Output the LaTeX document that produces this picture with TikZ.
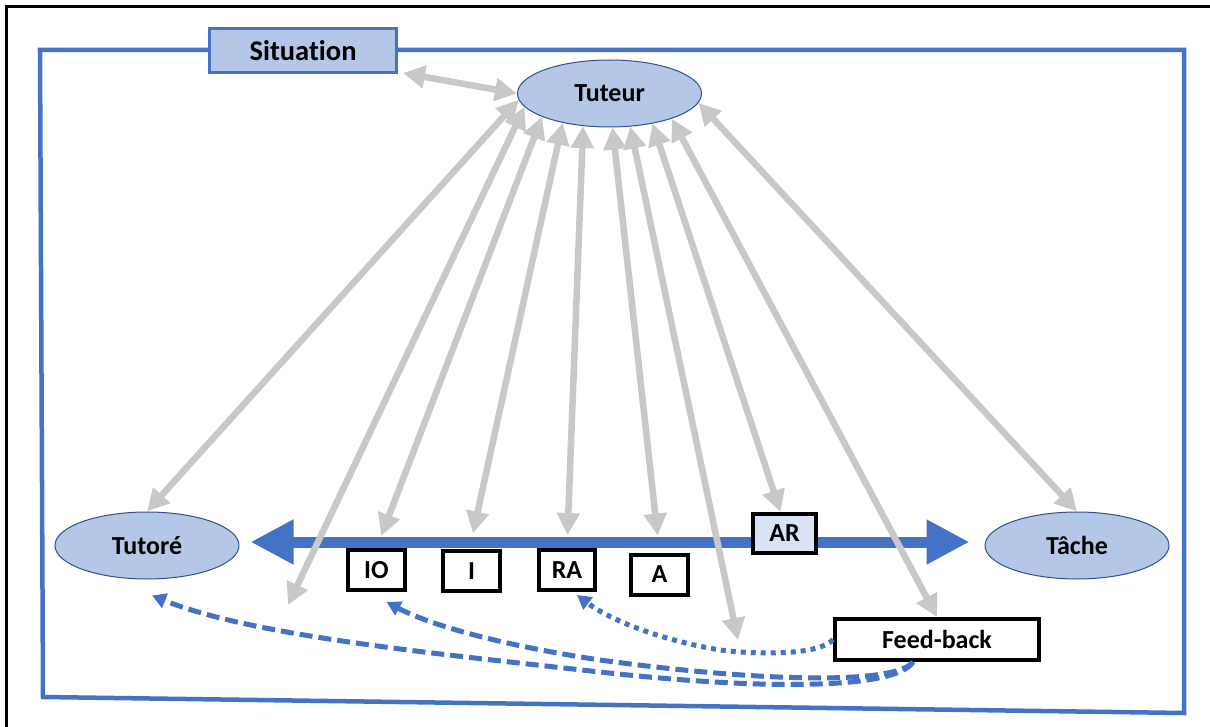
\documentclass[tikz,border=0pt]{standalone}
\usepackage{fontspec}
\setmainfont{Carlito}[Ligatures=CommonOff]
\usetikzlibrary{arrows.meta,shapes.geometric}
\definecolor{bblue}{HTML}{4472C4}
\definecolor{lblue}{HTML}{B4C7E7}
\definecolor{vlblue}{HTML}{DAE3F3}
\definecolor{dblue}{HTML}{2F528F}
\definecolor{agrey}{HTML}{C8C8C8}
\begin{document}
\begin{tikzpicture}[x=1pt,y=-1pt,
  txt/.style={font=\bfseries\fontsize{26}{30}\selectfont, text=black},
  ell/.style={txt, ellipse, draw=dblue, line width=1pt, fill=lblue, minimum width=184pt, minimum height=67pt, inner sep=0pt},
  sitbox/.style={txt, font=\bfseries\fontsize{28.5}{32}\selectfont, draw=bblue, line width=3pt, fill=lblue, minimum width=187pt, minimum height=44pt, inner sep=0pt},
  lab/.style={txt, draw=black, line width=4pt, fill=white, minimum width=57pt, minimum height=40pt, inner sep=0pt},
  garrow/.style={draw=agrey, line width=6.5pt, {Triangle[width=22pt,length=22pt]}-{Triangle[width=22pt,length=22pt]}},
  bigarrow/.style={draw=bblue, line width=11pt, {Triangle[width=42pt,length=43pt]}-{Triangle[width=42pt,length=43pt]}},
  dasharrow/.style={draw=bblue, line width=5pt, dash pattern=on 13pt off 6pt, -{Triangle[width=15pt,length=14pt]}},
  dotarrow/.style={draw=bblue, line width=5pt, dash pattern=on 5pt off 5pt, -{Triangle[width=15pt,length=14pt]}}
]
\useasboundingbox (0,0) rectangle (1210,727);
\fill[white] (0,0) rectangle (1210,727);
% outer black frame
\draw[line width=3pt, line join=miter] (6,727) -- (6,7) -- (1210,7);
% blue situation frame
\draw[bblue, line width=4.5pt, line join=miter] (40,50) -- (1184,50) -- (1184,713) -- (43,697) -- cycle;
\node[sitbox] (sit) at (303,50.5) {Situation};
% ellipses
\node[ell] (tuteur) at (609.5,93.5) {Tuteur};
\node[ell] (tutore) at (147,545.5) {Tutoré};
\node[ell] (tache) at (1077,545.5) {Tâche};
% main blue arrow
\draw[bigarrow, shorten <=11pt, shorten >=15pt] ([yshift=3.5pt]tutore.east) -- ([yshift=3.5pt]tache.west);
% boxes
\node[lab] (IO) at (376.5,570) {IO};
\node[lab] (I) at (471.5,571) {I};
\node[lab, minimum width=56pt] (RA) at (567,570) {RA};
\node[lab] (A) at (659.5,574.5) {A};
\node[lab, fill=vlblue, minimum width=63pt, minimum height=39pt] (AR) at (784.5,533.5) {AR};
\node[lab, minimum width=204pt, minimum height=41pt] (fb) at (937,639.5) {Feed-back};
\coordinate (f1) at (288,605);
\coordinate (f2) at (738,640);
% grey arrows
\draw[garrow] ([shift={(5,-1)}]sit.south east) -- (tuteur.west);
\draw[garrow] (tuteur.184) -- (tutore.north);
\draw[garrow] (tuteur.189) -- (f1);
\draw[garrow, shorten >=13pt] (tuteur.199) -- (IO.north);
\draw[garrow, shorten >=16pt] (tuteur.212) -- ([xshift=-2pt]I.north);
\draw[garrow, shorten >=13pt] (tuteur.231) -- (RA.north);
\draw[garrow, shorten >=17pt] (tuteur.275) -- (A.north);
\draw[garrow] (tuteur.302) -- (f2);
\draw[garrow] (tuteur.325) -- ([xshift=-4pt]AR.north);
\draw[garrow] (tuteur.338) -- (fb.north);
\draw[garrow] (tuteur.354) -- (tache.north);
% feedback arrows
\draw[dasharrow] ([xshift=-24pt]fb.south) .. controls (895,690) and (760,690) .. (600,672) .. controls (420,652) and (250,635) .. ([shift={(5,16)}]tutore.south);
\draw[dasharrow] ([xshift=-24pt]fb.south) .. controls (895,685) and (760,682) .. (600,660) .. controls (500,645) and (430,625) .. ([shift={(10,10)}]IO.south);
\draw[dotarrow] (fb.west) .. controls (820,655) and (760,655) .. (720,650) .. controls (660,640) and (610,620) .. ([shift={(10,3)}]RA.south);
\end{tikzpicture}
\end{document}
